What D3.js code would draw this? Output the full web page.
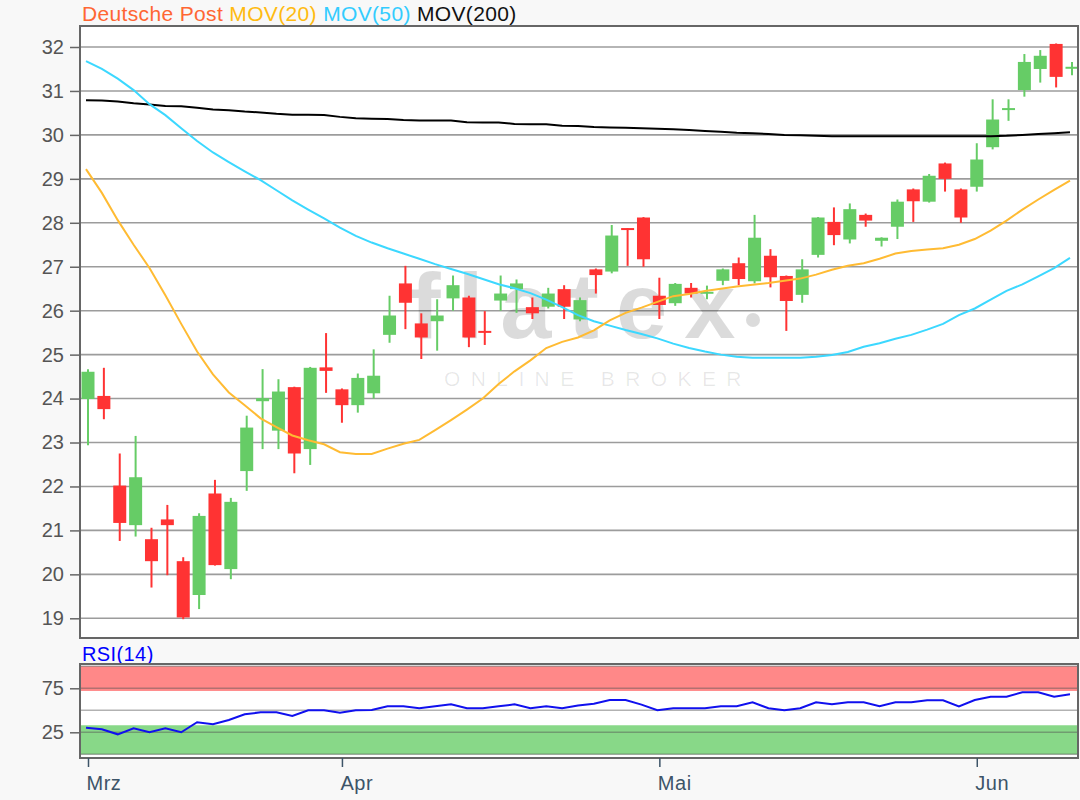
<!DOCTYPE html>
<html>
<head>
<meta charset="utf-8">
<script src="https://cdn.jsdelivr.net/npm/d3@7"></script>
<style>
  body { margin: 0; background: #f8f8f8; }
  svg { display: block; font-family: "Liberation Sans", Arial, sans-serif; }
</style>
</head>
<body>
<script>
// daily candles (index 0 = first trading day shown)
const open  = [23.99,24.06,22.02,21.12,20.80,21.25,20.30,19.53,21.84,20.12,22.35,23.94,23.27,24.26,22.85,24.71,24.21,23.85,24.12,25.45,26.62,25.71,25.76,26.28,26.30,25.54,26.23,26.49,26.08,26.09,26.49,25.80,26.94,26.89,27.88,28.12,26.34,26.17,26.52,26.39,26.68,27.08,26.67,27.25,26.79,26.36,27.27,28.02,27.62,28.18,27.59,27.91,28.76,28.48,29.35,28.76,28.82,29.72,30.57,31.02,31.50,32.07,31.51];
const high  = [24.67,24.70,22.75,23.15,21.06,21.58,20.39,21.39,22.15,21.74,23.61,24.67,24.44,24.27,24.72,25.49,24.23,24.57,25.12,26.34,27.02,25.94,26.26,26.80,26.34,25.99,26.80,26.71,26.30,26.52,26.58,26.30,26.96,27.95,27.88,28.13,26.75,26.63,26.63,26.57,26.96,27.21,28.18,27.40,26.80,27.17,28.13,28.35,28.44,28.21,27.67,28.53,28.78,29.11,29.37,28.78,29.81,30.81,30.81,31.84,31.93,32.08,31.66];
const low   = [22.94,23.53,20.76,20.86,19.70,19.98,18.98,19.21,20.20,19.89,21.90,22.85,22.85,22.30,22.49,24.13,23.45,23.68,24.00,25.27,25.58,24.90,25.09,26.00,25.17,25.22,26.00,25.95,25.81,26.05,25.81,25.76,26.39,26.85,27.02,27.00,25.81,26.11,26.30,26.26,26.58,26.58,26.62,26.53,25.54,26.18,27.21,27.49,27.53,27.91,27.46,27.63,28.02,28.46,28.71,28.00,28.71,29.67,30.32,30.87,31.19,31.08,31.36];
const close = [24.61,23.76,21.17,22.21,20.30,21.12,19.02,21.33,20.21,21.65,23.34,24.01,24.16,22.75,24.70,24.63,23.85,24.47,24.52,25.89,26.18,25.39,25.89,26.58,25.39,25.51,26.39,26.62,25.94,26.39,26.09,26.24,26.81,27.71,27.85,27.17,26.13,26.61,26.39,26.43,26.94,26.72,27.66,26.76,26.22,26.94,28.12,27.72,28.31,28.05,27.66,28.48,28.49,29.07,29.00,28.12,29.44,30.35,30.61,31.66,31.80,31.32,31.55];

const mov20  = [29.22,28.68,28.06,27.50,26.97,26.35,25.70,25.07,24.55,24.14,23.85,23.55,23.35,23.16,23.05,22.96,22.78,22.74,22.74,22.86,22.97,23.06,23.28,23.51,23.75,24.00,24.33,24.62,24.87,25.15,25.29,25.39,25.55,25.78,25.95,26.07,26.20,26.33,26.38,26.45,26.50,26.55,26.59,26.63,26.68,26.73,26.82,26.93,27.02,27.08,27.18,27.30,27.36,27.39,27.42,27.50,27.63,27.82,28.05,28.30,28.53,28.75,28.96];
const mov50  = [31.68,31.50,31.28,31.02,30.70,30.45,30.15,29.86,29.60,29.38,29.17,28.97,28.74,28.51,28.30,28.10,27.89,27.70,27.55,27.42,27.30,27.18,27.06,26.95,26.84,26.72,26.60,26.51,26.40,26.25,26.08,25.90,25.76,25.66,25.56,25.47,25.37,25.25,25.15,25.07,25.00,24.95,24.93,24.93,24.93,24.93,24.95,24.99,25.06,25.18,25.26,25.36,25.45,25.57,25.70,25.90,26.05,26.25,26.45,26.60,26.78,26.97,27.20];
const mov200 = [30.79,30.78,30.76,30.72,30.69,30.66,30.65,30.62,30.58,30.56,30.53,30.51,30.48,30.46,30.46,30.45,30.41,30.38,30.37,30.36,30.34,30.33,30.33,30.33,30.29,30.28,30.28,30.25,30.24,30.24,30.21,30.20,30.18,30.17,30.16,30.15,30.14,30.13,30.11,30.09,30.07,30.05,30.04,30.02,30.00,29.99,29.98,29.97,29.97,29.97,29.97,29.97,29.97,29.97,29.97,29.97,29.97,29.97,29.98,30.00,30.02,30.04,30.06];

const rsi = [30.2,28.5,22.7,29.5,25.0,29.5,25.0,36.4,34.1,39.0,45.5,47.7,47.7,43.5,50.0,50.0,47.3,50.0,50.3,54.5,54.5,52.3,54.5,56.8,52.3,52.3,54.5,56.8,52.3,54.5,52.3,55.5,57.5,61.7,61.7,56.5,50.0,52.3,52.3,52.3,54.5,54.5,59.1,52.3,50.0,52.3,59.1,56.8,59.1,59.1,54.5,59.1,59.1,61.4,61.4,54.5,61.7,65.5,65.5,70.5,70.5,65.5,68.2];

const priceTicks = [19,20,21,22,23,24,25,26,27,28,29,30,31,32];
const rsiTicks = [25, 75];
const rsiGrid = [0, 25, 50, 75, 100];
const rsiHigh = [72, 100];
const rsiLow = [0, 33];
const monthIndex = [0, 16, 36, 56];
const monthLabels = ["Mrz", "Apr", "Mai", "Jun"];

const width = 1080, height = 800;
const left = 80, right = 1078;
const mainTop = 26, mainBottom = 638;
const rsiTop = 664, rsiBottom = 758;

const green = "#66cc66", red = "#ff3333";

const x = d3.scaleLinear().domain([0, open.length - 1]).range([88, 1072]);
const y = d3.scaleLinear().domain([19, 32]).range([618.3, 47]);
const yr = d3.scaleLinear().domain([0, 100]).range([754.3, 666.3]);

const svg = d3.select("body").append("svg")
    .attr("width", width)
    .attr("height", height)
    .attr("viewBox", [0, 0, width, height]);

svg.append("rect").attr("width", width).attr("height", height).attr("fill", "#f8f8f8");

// title
const title = svg.append("text")
    .attr("x", 82).attr("y", 21)
    .attr("font-size", 21)
    .attr("letter-spacing", 0.35);
[["Deutsche Post", "#ff6633"], ["MOV(20)", "#ffbb11"], ["MOV(50)", "#33ccff"], ["MOV(200)", "#111"]]
  .forEach(([t, c], i) => title.append("tspan").attr("fill", c).text((i ? " " : "") + t));

// ---- main panel ----
svg.append("rect")
    .attr("x", left).attr("y", mainTop)
    .attr("width", right - left).attr("height", mainBottom - mainTop)
    .attr("fill", "#fff");

svg.append("g")
    .attr("stroke", "#9c9c9c")
    .attr("stroke-width", 1.6)
  .selectAll("line")
  .data(priceTicks)
  .join("line")
    .attr("x1", left).attr("x2", right)
    .attr("y1", d => y(d)).attr("y2", d => y(d));

// watermark
const wm = svg.append("g").attr("fill", "#000").attr("fill-opacity", 0.14);
wm.append("text")
    .attr("x", 410).attr("y", 338)
    .attr("font-size", 92)
    .attr("font-weight", "bold")
    .attr("letter-spacing", 17)
    .text("flatex");
wm.append("circle").attr("cx", 753).attr("cy", 320).attr("r", 7);
svg.append("text")
    .attr("x", 444).attr("y", 386)
    .attr("font-size", 21)
    .attr("letter-spacing", 10.4)
    .attr("fill", "#000").attr("fill-opacity", 0.09)
    .text("ONLINE BROKER");

const candles = svg.append("g")
  .selectAll("g")
  .data(open.map((o, i) => ({i, o, h: high[i], l: low[i], c: close[i]})))
  .join("g")
    .attr("fill", d => d.c >= d.o ? green : red)
    .attr("stroke", d => d.c >= d.o ? green : red);

candles.append("line")
    .attr("x1", d => x(d.i)).attr("x2", d => x(d.i))
    .attr("y1", d => y(d.h)).attr("y2", d => y(d.l))
    .attr("stroke-width", 2);

candles.append("rect")
    .attr("x", d => x(d.i) - 6.5)
    .attr("width", 13)
    .attr("y", d => y(Math.max(d.o, d.c)))
    .attr("height", d => Math.max(2, Math.abs(y(d.o) - y(d.c))))
    .attr("stroke", "none");

const line = d3.line().x((d, i) => x(i) - 2).y(d => y(d));
[[mov200, "#000"], [mov50, "#3cd8ff"], [mov20, "#ffbb33"]].forEach(([s, c]) => {
  svg.append("path")
      .attr("d", line(s))
      .attr("fill", "none")
      .attr("stroke", c)
      .attr("stroke-width", 2);
});

svg.append("rect")
    .attr("x", left).attr("y", mainTop)
    .attr("width", right - left).attr("height", mainBottom - mainTop)
    .attr("fill", "none")
    .attr("stroke", "#666")
    .attr("stroke-width", 2);

const yAxis = svg.append("g")
    .attr("transform", `translate(${left},0)`)
    .call(d3.axisLeft(y).tickValues(priceTicks).tickSize(10).tickPadding(6).tickFormat(d3.format("d")));
yAxis.select(".domain").remove();
yAxis.selectAll(".tick line").attr("stroke", "#666").attr("stroke-width", 1.5);
yAxis.selectAll("text").attr("fill", "#555").attr("font-size", 20).attr("font-family", "Liberation Sans, Arial, sans-serif");

// ---- RSI panel ----
svg.append("text")
    .attr("x", 82).attr("y", 661)
    .attr("font-size", 20)
    .attr("letter-spacing", 0.4)
    .attr("fill", "#0000ff")
    .text("RSI(14)");

svg.append("rect")
    .attr("x", left).attr("y", rsiTop)
    .attr("width", right - left).attr("height", rsiBottom - rsiTop)
    .attr("fill", "#fff");

svg.append("rect")
    .attr("x", left).attr("width", right - left)
    .attr("y", yr(rsiHigh[1])).attr("height", yr(rsiHigh[0]) - yr(rsiHigh[1]))
    .attr("fill", "#ff8888");
svg.append("rect")
    .attr("x", left).attr("width", right - left)
    .attr("y", yr(rsiLow[1])).attr("height", yr(rsiLow[0]) - yr(rsiLow[1]))
    .attr("fill", "#88d888");

svg.append("g")
    .attr("stroke", "#555")
    .attr("stroke-opacity", 0.45)
    .attr("stroke-width", 1.6)
  .selectAll("line")
  .data(rsiGrid)
  .join("line")
    .attr("x1", left).attr("x2", right)
    .attr("y1", d => yr(d)).attr("y2", d => yr(d));

svg.append("path")
    .attr("d", d3.line().x((d, i) => x(i) - 2).y(d => yr(d))(rsi))
    .attr("fill", "none")
    .attr("stroke", "#1010ee")
    .attr("stroke-width", 2);

svg.append("rect")
    .attr("x", left).attr("y", rsiTop)
    .attr("width", right - left).attr("height", rsiBottom - rsiTop)
    .attr("fill", "none")
    .attr("stroke", "#666")
    .attr("stroke-width", 2);

const rAxis = svg.append("g")
    .attr("transform", `translate(${left},0)`)
    .call(d3.axisLeft(yr).tickValues(rsiTicks).tickSize(10).tickPadding(6));
rAxis.select(".domain").remove();
rAxis.selectAll(".tick line").attr("stroke", "#666").attr("stroke-width", 1.5);
rAxis.selectAll("text").attr("fill", "#555").attr("font-size", 20).attr("font-family", "Liberation Sans, Arial, sans-serif");

// month axis
const xAxis = svg.append("g")
    .attr("transform", `translate(0,${rsiBottom})`)
    .call(d3.axisBottom(x).tickValues(monthIndex).tickSize(9).tickPadding(9)
      .tickFormat((d, i) => monthLabels[i]));
xAxis.select(".domain").remove();
xAxis.selectAll(".tick line").attr("stroke", "#3d5468").attr("stroke-width", 1.5);
xAxis.selectAll("text")
    .attr("fill", "#3d5468")
    .attr("font-size", 20)
    .attr("letter-spacing", 0.5)
    .attr("font-family", "Liberation Sans, Arial, sans-serif")
    .attr("text-anchor", "start")
    .attr("x", -2);
</script>
</body>
</html>
